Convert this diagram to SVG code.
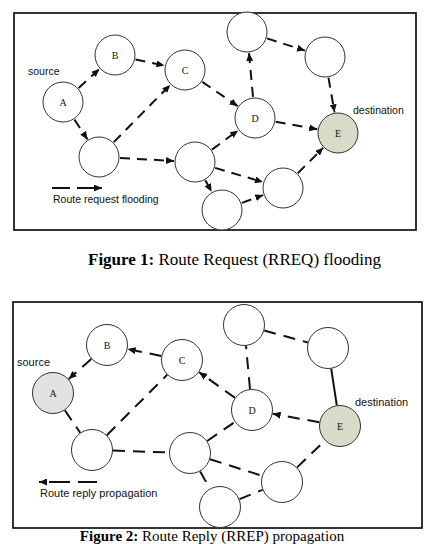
<svg xmlns="http://www.w3.org/2000/svg" width="426" height="544" viewBox="0 0 426 544">
<defs>
<marker id="ah" markerUnits="userSpaceOnUse" markerWidth="9" markerHeight="7" refX="8" refY="3.5" orient="auto"><path d="M0,0 L8,3.5 L0,7 z" fill="#111"/></marker>
<style>
.frame{fill:#fff;stroke:#000;stroke-width:1.6}
.n{fill:#fff;stroke:#333;stroke-width:1}
.dst{fill:#d8dbc8}
.src{fill:#e2e2e2}
.e1{stroke:#111;stroke-width:2;stroke-dasharray:10 7;fill:none}
.e2{stroke:#111;stroke-width:2;stroke-dasharray:12 8;fill:none}
.ar{marker-end:url(#ah)}
.lbl{font-family:"Liberation Serif","Times New Roman",serif;font-size:10px;fill:#111;text-anchor:middle}
.t1{font-family:"Liberation Sans",Arial,sans-serif;font-size:10.5px;fill:#111}
.t2{font-family:"Liberation Sans",Arial,sans-serif;font-size:11px;fill:#111}
.cap{font-family:"Liberation Serif","Times New Roman",serif;fill:#000}
</style>
</defs>
<rect width="426" height="544" fill="#fff"/>

<!-- Figure 1 -->
<rect class="frame" x="14" y="13" width="402" height="217"/>
<g id="fig1-edges">
<line class="e1 ar" x1="78.6" y1="87.9" x2="99.4" y2="69.1"/>
<line class="e1 ar" x1="74.5" y1="119.6" x2="87.5" y2="139.4"/>
<line class="e1 ar" x1="135.5" y1="59.4" x2="164.5" y2="65.6"/>
<line class="e1 ar" x1="113.8" y1="142.1" x2="170.2" y2="84.9"/>
<line class="e1 ar" x1="120" y1="158.1" x2="174" y2="160.9"/>
<line class="e1 ar" x1="202.3" y1="81.9" x2="237.7" y2="106.1"/>
<line class="e1 ar" x1="211.9" y1="149.6" x2="238.1" y2="130.4"/>
<line class="e1 ar" x1="215.1" y1="167.9" x2="262.9" y2="182.1"/>
<line class="e1 ar" x1="205.3" y1="180.3" x2="211.7" y2="191.7"/>
<line class="e1 ar" x1="241.8" y1="202.9" x2="263.2" y2="195.1"/>
<line class="e1 ar" x1="297.8" y1="173.2" x2="323.2" y2="147.8"/>
<line class="e1 ar" x1="275.7" y1="121.7" x2="317.3" y2="129.3"/>
<line class="e1 ar" x1="253" y1="96.9" x2="249" y2="53.1"/>
<line class="e1 ar" x1="267" y1="38.4" x2="305" y2="50.6"/>
<line class="e1 ar" x1="328.5" y1="77.7" x2="334.5" y2="112.3"/>
<line class="ar" x1="52" y1="188" x2="102" y2="188" stroke="#111" stroke-width="2" stroke-dasharray="18 7 30"/>
</g>
<g id="f1-A"><circle class="n" cx="63" cy="102" r="20"/><text class="lbl" x="63" y="105.5">A</text></g>
<g id="f1-B"><circle class="n" cx="115" cy="55" r="20"/><text class="lbl" x="115" y="58.5">B</text></g>
<g id="f1-C"><circle class="n" cx="185" cy="70" r="20"/><text class="lbl" x="185" y="73.5">C</text></g>
<g id="f1-T"><circle class="n" cx="247" cy="32" r="20"/></g>
<g id="f1-TR"><circle class="n" cx="325" cy="57" r="20"/></g>
<g id="f1-D"><circle class="n" cx="255" cy="118" r="20"/><text class="lbl" x="255" y="121.5">D</text></g>
<g id="f1-E"><circle class="n dst" cx="338" cy="133" r="20"/><text class="lbl" x="338" y="136.5">E</text></g>
<g id="f1-LL"><circle class="n" cx="99" cy="157" r="20"/></g>
<g id="f1-M"><circle class="n" cx="195" cy="162" r="20"/></g>
<g id="f1-BR"><circle class="n" cx="283" cy="188" r="20"/></g>
<g id="f1-Bot"><circle class="n" cx="222" cy="210" r="20"/></g>
<text class="t1" x="28" y="75">source</text>
<text class="t1" x="353" y="114">destination</text>
<text class="t1" x="53" y="203">Route request flooding</text>
<text class="cap" x="88" y="265" font-size="17"><tspan font-weight="bold">Figure 1:</tspan> Route Request (RREQ) flooding</text>

<!-- Figure 2 -->
<rect class="frame" x="13" y="302" width="409" height="226"/>
<g id="fig2-edges">
<line class="e2 ar" x1="161.4" y1="355.9" x2="127.6" y2="349.1"/>
<line class="e2 ar" x1="91.3" y1="359" x2="68.7" y2="379"/>
<line class="e2" x1="64.8" y1="410.3" x2="80.2" y2="432.7"/>
<line class="e2" x1="106.8" y1="435.2" x2="167.2" y2="374.8"/>
<line class="e2" x1="113" y1="450.6" x2="169" y2="452.4"/>
<line class="e2 ar" x1="234.9" y1="397.8" x2="199.1" y2="372.2"/>
<line class="e2 ar" x1="319.3" y1="422.2" x2="272.7" y2="413.8"/>
<line class="e2" x1="207.2" y1="441" x2="234.8" y2="422"/>
<line class="e2" x1="210" y1="459.3" x2="262" y2="475.7"/>
<line class="e2" x1="200.2" y1="471.4" x2="209.8" y2="488.6"/>
<line class="e2" x1="239.5" y1="499.1" x2="262.5" y2="489.9"/>
<line class="e2" x1="297.1" y1="467.4" x2="324.9" y2="440.6"/>
<line class="e2" x1="250" y1="389.1" x2="246" y2="345.9"/>
<line class="e2" x1="264.2" y1="330.5" x2="307.8" y2="342.5"/>
<line x1="331.2" y1="368.7" x2="336.8" y2="405.3" stroke="#111" stroke-width="2"/>
<line class="ar" x1="97" y1="482" x2="39" y2="482" stroke="#111" stroke-width="2" stroke-dasharray="19 8 21 2 20"/>
</g>
<g id="f2-A"><circle class="n src" cx="53" cy="393" r="20.5"/><text class="lbl" x="53" y="396.5">A</text></g>
<g id="f2-B"><circle class="n" cx="107" cy="345" r="20.5"/><text class="lbl" x="107" y="348.5">B</text></g>
<g id="f2-C"><circle class="n" cx="182" cy="360" r="20.5"/><text class="lbl" x="182" y="363.5">C</text></g>
<g id="f2-T"><circle class="n" cx="244" cy="325" r="20.5"/></g>
<g id="f2-TR"><circle class="n" cx="328" cy="348" r="20.5"/></g>
<g id="f2-D"><circle class="n" cx="252" cy="410" r="20.5"/><text class="lbl" x="252" y="413.5">D</text></g>
<g id="f2-E"><circle class="n dst" cx="340" cy="426" r="20.5"/><text class="lbl" x="340" y="429.5">E</text></g>
<g id="f2-LL"><circle class="n" cx="92" cy="450" r="20.5"/></g>
<g id="f2-M"><circle class="n" cx="190" cy="453" r="20.5"/></g>
<g id="f2-BR"><circle class="n" cx="282" cy="482" r="20.5"/></g>
<g id="f2-Bot"><circle class="n" cx="220" cy="507" r="20.5"/></g>
<text class="t2" x="17" y="366">source</text>
<text class="t2" x="355" y="406">destination</text>
<text class="t2" x="40" y="497">Route reply propagation</text>
<text class="cap" x="212" y="540.5" font-size="15" text-anchor="middle"><tspan font-weight="bold">Figure 2:</tspan> Route Reply (RREP) propagation</text>
</svg>
